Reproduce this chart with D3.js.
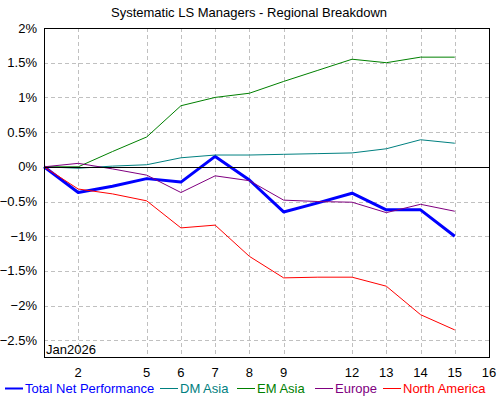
<!DOCTYPE html>
<html>
<head>
<meta charset="utf-8">
<script src="https://cdn.jsdelivr.net/npm/d3@7"></script>
<style>
  body { margin: 0; background: #fff; }
  svg { display: block; }
</style>
</head>
<body>
<div id="vis"></div>
<script>
// one slot per trading day, weekends take one empty slot
var dayLabels = ["1", "2", "", "5", "6", "7", "8", "9", "", "12", "13", "14", "15", "16"];
var yTicks = [2, 1.5, 1, 0.5, 0, -0.5, -1, -1.5, -2, -2.5];

var seriesNames = ["Total Net Performance", "DM Asia", "EM Asia", "Europe", "North America"];
var seriesColors = ["#0000ff", "#008080", "#008000", "#800080", "#ff0000"];
var seriesWidths = [3, 1, 1, 1, 1];

var totalNet     = [0, -0.37, -0.28, -0.17, -0.22, 0.15, -0.19, -0.65, -0.52, -0.38, -0.62, -0.62, -1.0];
var dmAsia       = [0, -0.02, 0.01, 0.03, 0.13, 0.17, 0.17, 0.18, 0.19, 0.20, 0.26, 0.39, 0.34];
var emAsia       = [0, 0.0, 0.22, 0.43, 0.88, 1.0, 1.06, 1.23, 1.39, 1.55, 1.50, 1.58, 1.58];
var europe       = [0, 0.05, -0.03, -0.12, -0.37, -0.13, -0.20, -0.48, -0.50, -0.51, -0.66, -0.54, -0.64];
var northAmerica = [0, -0.32, -0.39, -0.49, -0.88, -0.84, -1.29, -1.60, -1.59, -1.59, -1.72, -2.13, -2.35];
var seriesValues = [totalNet, dmAsia, emAsia, europe, northAmerica];

var font = '"Liberation Sans", Arial, sans-serif';
var width = 500, height = 400;
var plotLeft = 44, plotRight = 489, plotTop = 28, plotBottom = 357;

var svg = d3.select("#vis").append("svg")
    .attr("width", width)
    .attr("height", height);

var x = d3.scaleLinear().domain([0, dayLabels.length - 1]).range([plotLeft, plotRight]);
var y = d3.scaleLinear().domain([-2.74, 2]).range([plotBottom, plotTop]);

var tickIdx = dayLabels.map(function (d, i) { return i; })
    .filter(function (i) { return i > 0 && dayLabels[i] !== ""; });

// grid
var grid = svg.append("g")
    .attr("stroke", "#c0c0c0")
    .attr("stroke-width", 1)
    .attr("stroke-dasharray", "4,3")
    .attr("shape-rendering", "crispEdges");

grid.selectAll("line.gx").data(tickIdx).enter().append("line")
    .attr("x1", function (d) { return Math.round(x(d)) + 0.5; })
    .attr("x2", function (d) { return Math.round(x(d)) + 0.5; })
    .attr("y1", plotTop).attr("y2", plotBottom);

grid.selectAll("line.gy").data(yTicks.filter(function (d) { return d !== 0; })).enter().append("line")
    .attr("x1", plotLeft).attr("x2", plotRight)
    .attr("y1", function (d) { return Math.round(y(d)) + 0.5; })
    .attr("y2", function (d) { return Math.round(y(d)) + 0.5; });

// series lines
var line = d3.line()
    .x(function (d, i) { return x(i); })
    .y(function (d) { return y(d); });

svg.append("g").selectAll("path").data(seriesValues).enter().append("path")
    .attr("d", line)
    .attr("fill", "none")
    .attr("stroke", function (d, i) { return seriesColors[i]; })
    .attr("stroke-width", function (d, i) { return seriesWidths[i]; })
    .attr("stroke-linejoin", "round");

// zero line
svg.append("line")
    .attr("x1", plotLeft).attr("x2", plotRight)
    .attr("y1", Math.round(y(0)) + 0.5).attr("y2", Math.round(y(0)) + 0.5)
    .attr("stroke", "#000").attr("stroke-width", 1)
    .attr("shape-rendering", "crispEdges");

// frame
svg.append("rect")
    .attr("x", plotLeft + 0.5).attr("y", plotTop + 0.5)
    .attr("width", plotRight - plotLeft).attr("height", plotBottom - plotTop)
    .attr("fill", "none")
    .attr("stroke", "#000").attr("stroke-width", 1)
    .attr("shape-rendering", "crispEdges");

// axis labels
svg.append("g").selectAll("text").data(yTicks).enter().append("text")
    .attr("x", 37)
    .attr("y", function (d) { return y(d); })
    .attr("dy", "0.35em")
    .attr("text-anchor", "end")
    .style("font-family", font)
    .style("font-size", "13px")
    .attr("fill", "#000")
    .text(function (d) { return d3.format("")(d) + "%"; });

svg.append("g").selectAll("text").data(tickIdx).enter().append("text")
    .attr("x", function (d) { return x(d); })
    .attr("y", 377)
    .attr("text-anchor", "middle")
    .style("font-family", font)
    .style("font-size", "13px")
    .attr("fill", "#000")
    .text(function (d) { return dayLabels[d]; });

svg.append("text")
    .attr("x", 46).attr("y", 354)
    .style("font-family", font)
    .style("font-size", "13px")
    .attr("fill", "#000")
    .text("Jan2026");

// title
svg.append("text")
    .attr("x", 249).attr("y", 17)
    .attr("text-anchor", "middle")
    .style("font-family", font)
    .style("font-size", "13px")
    .attr("fill", "#000")
    .text("Systematic LS Managers - Regional Breakdown");

// legend
var legendX = [5, 160, 237, 315, 383];
var legend = svg.append("g").selectAll("g").data(seriesNames).enter().append("g")
    .attr("transform", function (d, i) { return "translate(" + legendX[i] + ",388)"; });

legend.append("line")
    .attr("x1", 0).attr("x2", 18)
    .attr("y1", 0.5).attr("y2", 0.5)
    .attr("stroke", function (d, i) { return seriesColors[i]; })
    .attr("stroke-width", function (d, i) { return seriesWidths[i] > 1 ? 2 : 1; });

legend.append("text")
    .attr("x", 20).attr("y", 5)
    .style("font-family", font)
    .style("font-size", "13px")
    .attr("fill", function (d, i) { return seriesColors[i]; })
    .text(function (d) { return d; });
</script>
</body>
</html>
